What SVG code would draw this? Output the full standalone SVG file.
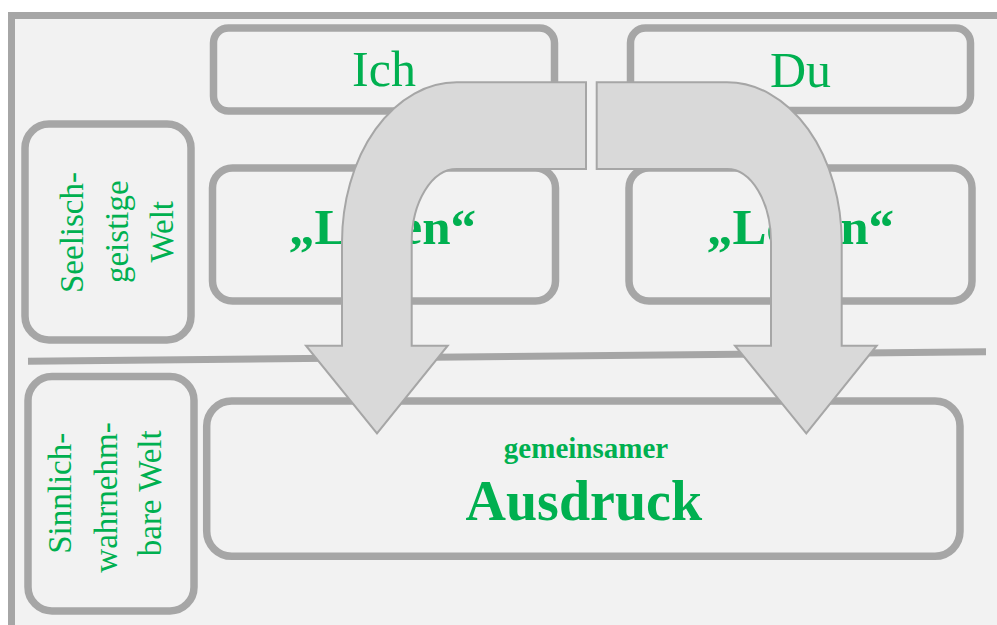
<svg xmlns="http://www.w3.org/2000/svg" width="997" height="625" viewBox="0 0 997 625">
  <style>
    .frame { fill: #f2f2f2; stroke: #a6a6a6; stroke-width: 7; }
    .box { fill: #f2f2f2; stroke: #a6a6a6; stroke-width: 7.5; }
    .rule { stroke: #a6a6a6; stroke-width: 7; fill: none; }
    .lbl { font-family: "Liberation Serif", "Times New Roman", serif; fill: #00b050; text-anchor: middle; }
    .b { font-weight: bold; }
    .arrow { fill: #d9d9d9; stroke: #a6a6a6; stroke-width: 2; stroke-linejoin: miter; }
  </style>

  <rect width="997" height="625" fill="#ffffff"/>
  <!-- outer frame, open to the right and bottom -->
  <rect class="frame" x="11.5" y="15.5" width="1000" height="620"/>

  <!-- divider between the two worlds -->
  <line class="rule" x1="28" y1="361.2" x2="986" y2="351.7"/>

  <g id="ich">
    <rect class="box" x="213.5" y="28" width="341" height="83" rx="15"/>
    <text class="lbl" x="384" y="86" font-size="50">Ich</text>
  </g>

  <g id="du">
    <rect class="box" x="630.5" y="28" width="340" height="82.5" rx="15"/>
    <text class="lbl" x="800.5" y="87" font-size="50">Du</text>
  </g>

  <g id="seelisch">
    <rect class="box" x="25" y="124" width="166" height="216" rx="24"/>
    <text class="lbl" font-size="33" transform="translate(83.3,232.5) rotate(-90)">Seelisch-</text>
    <text class="lbl" font-size="33" transform="translate(128,231.7) rotate(-90)">geistige</text>
    <text class="lbl" font-size="33" transform="translate(172.7,231.7) rotate(-90)">Welt</text>
  </g>

  <g id="leben-ich">
    <rect class="box" x="212.5" y="168" width="343" height="133" rx="20"/>
    <text class="lbl b" x="382.5" y="244.3" font-size="51">„Leben“</text>
  </g>

  <g id="leben-du">
    <rect class="box" x="629" y="168" width="343" height="133" rx="20"/>
    <text class="lbl b" x="800.5" y="244.3" font-size="51">„Leben“</text>
  </g>

  <g id="sinnlich">
    <rect class="box" x="28" y="376.5" width="166" height="234.5" rx="24"/>
    <text class="lbl" font-size="33" transform="translate(71,493.3) rotate(-90)">Sinnlich-</text>
    <text class="lbl" font-size="33" transform="translate(116.7,497.5) rotate(-90)">wahrnehm-</text>
    <text class="lbl" font-size="33" transform="translate(161,493.3) rotate(-90)">bare Welt</text>
  </g>

  <g id="ausdruck">
    <rect class="box" x="206.7" y="401" width="753.3" height="155.3" rx="25"/>
    <text class="lbl b" x="586" y="458.3" font-size="29">gemeinsamer</text>
    <text class="lbl b" x="583.8" y="520" font-size="56">Ausdruck</text>
  </g>

  <!-- bent arrows from each "Leben" down into the shared expression -->
  <g id="connectors">
    <path class="arrow" d="M586,82.3 L456.7,82.3 A114.7,160 0 0 0 342,242.3 L342,345.7 L306,345.7 L377,433.3 L447.7,345.7 L411.7,345.7 L411.7,242.3 A45,73.3 0 0 1 456.7,169 L586,169 Z"/>
    <path class="arrow" d="M596.7,82.3 L727,82.3 A114.7,160 0 0 1 841.7,242.3 L841.7,345.7 L876.7,345.7 L806.3,433.3 L735,345.7 L771,345.7 L771,242.3 A44,73.3 0 0 0 727,169 L596.7,169 Z"/>
  </g>
</svg>
